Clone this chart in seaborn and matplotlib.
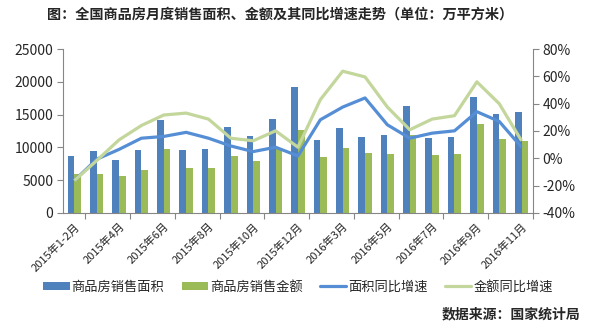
import numpy as np
import pandas as pd
import seaborn as sns
import matplotlib.pyplot as plt
from matplotlib.patches import Patch
from matplotlib.lines import Line2D
from matplotlib.ticker import FuncFormatter

months = ["2015年1-2月", "2015年3月", "2015年4月", "2015年5月", "2015年6月", "2015年7月",
          "2015年8月", "2015年9月", "2015年10月", "2015年11月", "2015年12月",
          "2016年1-2月", "2016年3月", "2016年4月", "2016年5月", "2016年6月",
          "2016年7月", "2016年8月", "2016年9月", "2016年10月", "2016年11月"]
area = [8700, 9470, 8100, 9620, 14210, 9620, 9780, 13140, 11760, 14360, 19250,
        11150, 12980, 11610, 11910, 16340, 11460, 11610, 17720, 15120, 15430]
amount = [5960, 5960, 5650, 6570, 9780, 6870, 6870, 8710, 7940, 9700, 12680,
          8550, 9930, 9170, 9010, 11910, 8860, 9010, 13600, 11300, 11000]
area_yoy = [-16.4, -0.7, 6.5, 14.7, 16.0, 19.0, 14.7, 9.0, 4.9, 8.1, 1.7,
            28.2, 37.5, 44.2, 24.5, 14.7, 18.4, 20.1, 34.1, 27.0, 8.1]
amount_yoy = [-16.4, -1.7, 13.5, 24.0, 31.7, 33.1, 28.7, 14.7, 12.8, 20.1, 8.1,
              42.9, 63.8, 59.6, 37.5, 20.9, 28.7, 31.2, 56.0, 40.0, 12.8]
series_names = ["商品房销售面积", "商品房销售金额", "面积同比增速", "金额同比增速"]

blue_bar = "#4F81BD"
green_bar = "#9BBB59"
blue_line = "#558ED5"
green_line = "#C3D69B"
axis_gray = "#868686"

sns.set_theme(style="white")
plt.rcParams['font.family'] = ['Noto Sans CJK SC', 'DejaVu Sans']

n = len(months)
df = pd.DataFrame({
    "month": months * 2,
    "value": area + amount,
    "series": [series_names[0]] * n + [series_names[1]] * n,
})

fig = plt.figure(figsize=(5.9, 3.25), dpi=100)
ax = fig.add_axes([0.107, 0.345, 0.796, 0.504])
sns.barplot(data=df, x="month", y="value", hue="series", order=months,
            hue_order=series_names[:2], palette=[blue_bar, green_bar],
            width=0.6, saturation=1, linewidth=0, ax=ax, legend=False)
ax.set_xlim(-0.5, n - 0.5)
ax.set_ylim(0, 25000)
ax.set_yticks(range(0, 25001, 5000))
ax.set_xlabel("")
ax.set_ylabel("")

ax2 = ax.twinx()
xs = np.arange(n)
sns.lineplot(x=xs, y=area_yoy, ax=ax2, color=blue_line, linewidth=2.3,
             solid_capstyle="butt", solid_joinstyle="round")
sns.lineplot(x=xs, y=amount_yoy, ax=ax2, color=green_line, linewidth=2.3,
             solid_capstyle="butt", solid_joinstyle="round")
ax2.set_ylim(-40, 80)
ax2.set_yticks(range(-40, 81, 20))
ax2.yaxis.set_major_formatter(FuncFormatter(lambda v, p: f"{int(v)}%"))
ax2.set_xlim(-0.5, n - 0.5)

# x ticks
ax.set_xticks(range(0, n, 2))
ax.set_xticklabels(months[::2], rotation=45, ha="right", rotation_mode="anchor", fontsize=8)
ax.set_xticks(np.arange(0.5, n, 2), minor=True)
ax.tick_params(axis="x", which="major", length=0, pad=6)
ax.tick_params(axis="x", which="minor", length=4, width=0.8, color=axis_gray, direction="out", bottom=True)
ax.tick_params(axis="y", length=4, width=0.8, color=axis_gray, direction="out", left=True, labelsize=10, pad=3)
ax2.tick_params(axis="y", length=4, width=0.8, color=axis_gray, direction="out", right=True, labelsize=10, pad=3)

for a in (ax, ax2):
    a.spines["top"].set_visible(False)
    for s in a.spines.values():
        s.set_color(axis_gray)
        s.set_linewidth(0.8)
ax.spines["right"].set_visible(False)
ax2.spines["left"].set_visible(False)
ax2.spines["bottom"].set_visible(False)
ax.grid(False)
ax2.grid(False)

handles = [Patch(facecolor=blue_bar, edgecolor="none"),
           Patch(facecolor=green_bar, edgecolor="none"),
           Line2D([0], [0], color=blue_line, lw=2.3),
           Line2D([0], [0], color=green_line, lw=2.3)]
fig.legend(handles, series_names, loc="center", bbox_to_anchor=(0.505, 0.116),
           ncol=4, frameon=False, fontsize=9.5, handlelength=2.0, handleheight=0.6,
           handletextpad=0.15, columnspacing=1.3)

fig.text(0.475, 0.954, "图：全国商品房月度销售面积、金额及其同比增速走势（单位：万平方米）",
         ha="center", va="center", fontsize=10.2, fontweight="bold")
fig.text(0.983, 0.034, "数据来源：国家统计局", ha="right", va="center",
         fontsize=10, fontweight="bold")

fig.savefig("out.png", dpi=100)
